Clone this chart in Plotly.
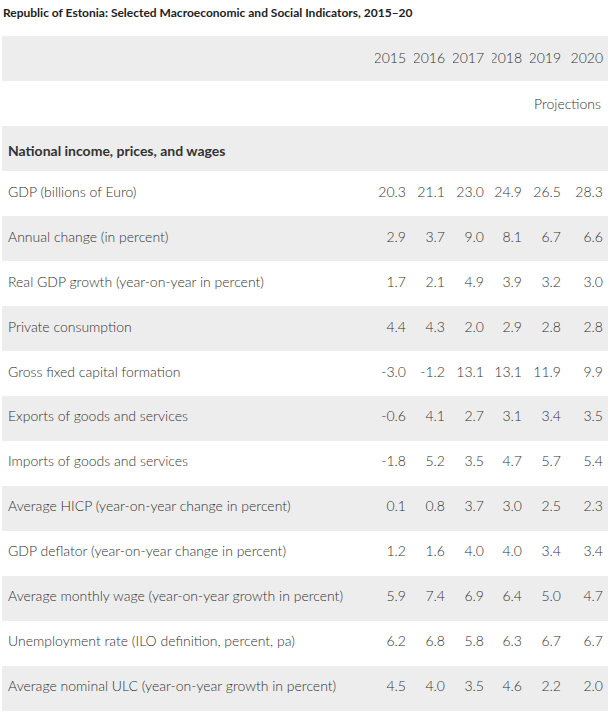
import plotly.graph_objects as go

title = "Republic of Estonia: Selected Macroeconomic and Social Indicators, 2015–20"
years = ["2015", "2016", "2017", "2018", "2019", "2020"]
section = "National income, prices, and wages"
note = "Projections"
indicators = [
    "GDP (billions of Euro)",
    "Annual change (in percent)",
    "Real GDP growth (year-on-year in percent)",
    "Private consumption",
    "Gross fixed capital formation",
    "Exports of goods and services",
    "Imports of goods and services",
    "Average HICP (year-on-year change in percent)",
    "GDP deflator (year-on-year change in percent)",
    "Average monthly wage (year-on-year growth in percent)",
    "Unemployment rate (ILO definition, percent, pa)",
    "Average nominal ULC (year-on-year growth in percent)",
]
v2015 = [20.3, 2.9, 1.7, 4.4, -3.0, -0.6, -1.8, 0.1, 1.2, 5.9, 6.2, 4.5]
v2016 = [21.1, 3.7, 2.1, 4.3, -1.2, 4.1, 5.2, 0.8, 1.6, 7.4, 6.8, 4.0]
v2017 = [23.0, 9.0, 4.9, 2.0, 13.1, 2.7, 3.5, 3.7, 4.0, 6.9, 5.8, 3.5]
v2018 = [24.9, 8.1, 3.9, 2.9, 13.1, 3.1, 4.7, 3.0, 4.0, 6.4, 6.3, 4.6]
v2019 = [26.5, 6.7, 3.2, 2.8, 11.9, 3.4, 5.7, 2.5, 3.4, 5.0, 6.7, 2.2]
v2020 = [28.3, 6.6, 3.0, 2.8, 9.9, 3.5, 5.4, 2.3, 3.4, 4.7, 6.7, 2.0]

W, H = 611, 717
TOP, ROWH = 36, 45
SHIFT = 8          # pushes text down so it sits mid-row
GREY, WHITE = "#ededed", "#ffffff"
CLEAR = "rgba(0,0,0,0)"
TXT = "#333333"
FONT = "Lato"
FSIZE = 14

# ---- table rows (header row + note row + section row + indicators)
label_col = ["", "", "<b>" + section + "</b>"] + indicators
num_cols = []
for yr, col in zip(years, [v2015, v2016, v2017, v2018, v2019, v2020]):
    num_cols.append([yr, "", ""] + [f"{v:.1f}" for v in col])

n_rows = len(label_col)
row_fill = [GREY if i % 2 == 0 else WHITE for i in range(n_rows)]

# background table: cell bands only
bg_rows = n_rows - 1
bg = go.Table(
    domain=dict(x=[2 / W, 608 / W], y=[(H - TOP - ROWH * n_rows) / H, (H - TOP) / H]),
    columnwidth=[1],
    header=dict(values=[""], fill_color=GREY, line_color=GREY, line_width=0, height=ROWH),
    cells=dict(values=[[""] * bg_rows], fill_color=[row_fill[1:]],
               line_color=[row_fill[1:]], line_width=0, height=ROWH),
    hoverinfo="skip",
)

# text table: transparent cells, offset by a small spacer header
row_h = (H - TOP - SHIFT) / n_rows
txt = go.Table(
    domain=dict(x=[0, 1], y=[0, (H - TOP) / H]),
    columnwidth=[375, 39, 39, 39, 38, 39, 42],
    header=dict(values=[""] * 7, fill_color=CLEAR, line_color=CLEAR, line_width=0,
                height=SHIFT, font=dict(size=1)),
    cells=dict(
        values=[label_col] + num_cols,
        align=["left"] + ["right"] * 6,
        fill_color=CLEAR,
        line_color=CLEAR,
        line_width=0,
        height=row_h,
        font=dict(family=FONT, size=FSIZE, color=TXT, weight=300),
    ),
)

fig = go.Figure([bg, txt])

fig.add_annotation(
    text=note, xref="paper", yref="paper",
    x=(W - 8) / W, y=(H - (TOP + ROWH + ROWH / 2)) / H,
    xanchor="right", yanchor="middle", showarrow=False,
    font=dict(family=FONT, size=FSIZE, color=TXT, weight=300),
)

fig.update_layout(
    width=W, height=H,
    margin=dict(l=0, r=0, t=0, b=0),
    paper_bgcolor="white",
    title=dict(
        text="<b>" + title + "</b>",
        x=3 / W, xanchor="left", xref="paper",
        y=1 - 13 / H, yanchor="middle", yref="container",
        font=dict(family=FONT, size=12, color="#222222"),
    ),
)

fig.write_html("out.html", config={"displayModeBar": False},
               post_script="document.body.style.margin='0px';")
